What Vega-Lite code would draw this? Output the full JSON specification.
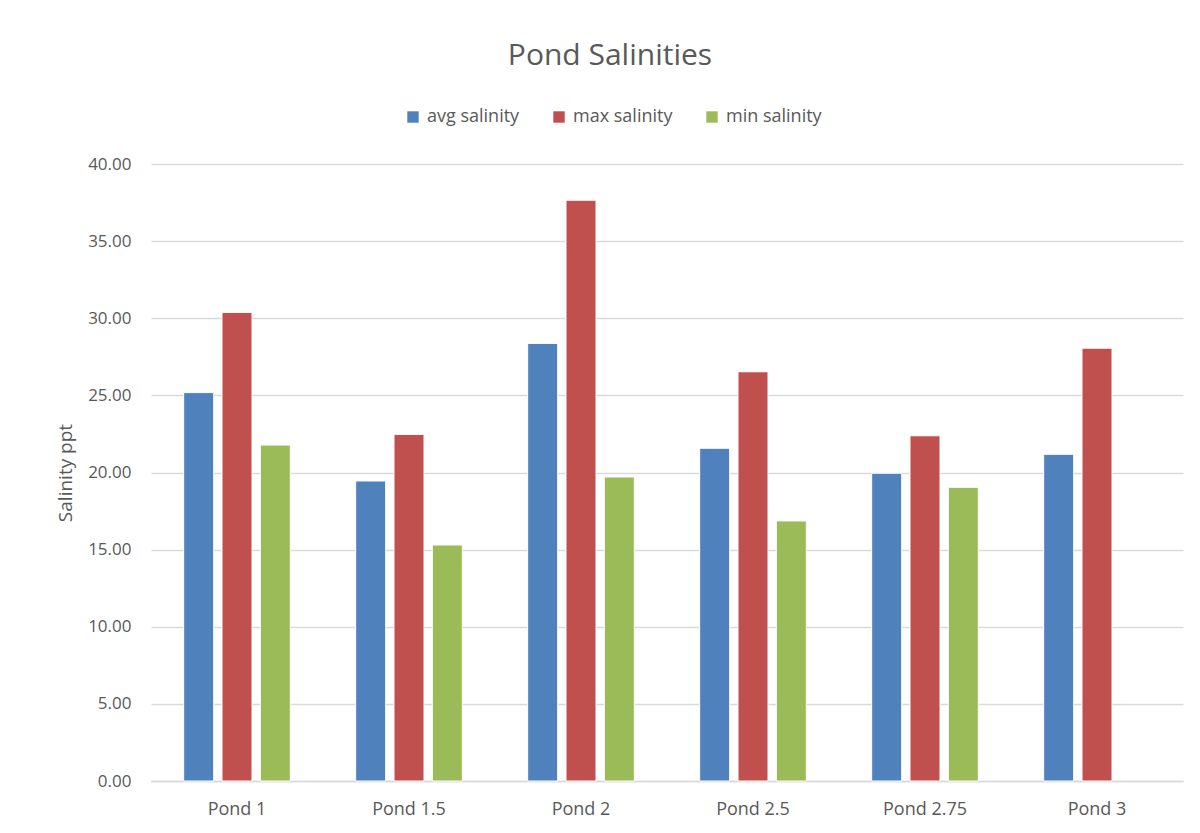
{
  "$schema": "https://vega.github.io/schema/vega-lite/v6.json",
  "width": 1032,
  "height": 617,
  "autosize": {"type": "none"},
  "padding": {"left": 151, "top": 164, "right": 17, "bottom": 52},
  "background": "white",
  "title": {
    "text": "Pond Salinities",
    "font": "Open Sans",
    "fontSize": 30,
    "fontWeight": "normal",
    "color": "#595959",
    "anchor": "middle",
    "dx": -57,
    "offset": 37
  },
  "data": {
    "values": [
      {"pond": "Pond 1", "series": "avg salinity", "value": 25.18},
      {"pond": "Pond 1", "series": "max salinity", "value": 30.38},
      {"pond": "Pond 1", "series": "min salinity", "value": 21.78},
      {"pond": "Pond 1.5", "series": "avg salinity", "value": 19.45},
      {"pond": "Pond 1.5", "series": "max salinity", "value": 22.47},
      {"pond": "Pond 1.5", "series": "min salinity", "value": 15.3},
      {"pond": "Pond 2", "series": "avg salinity", "value": 28.37},
      {"pond": "Pond 2", "series": "max salinity", "value": 37.65},
      {"pond": "Pond 2", "series": "min salinity", "value": 19.71},
      {"pond": "Pond 2.5", "series": "avg salinity", "value": 21.57},
      {"pond": "Pond 2.5", "series": "max salinity", "value": 26.53},
      {"pond": "Pond 2.5", "series": "min salinity", "value": 16.86},
      {"pond": "Pond 2.75", "series": "avg salinity", "value": 19.95},
      {"pond": "Pond 2.75", "series": "max salinity", "value": 22.38},
      {"pond": "Pond 2.75", "series": "min salinity", "value": 19.04},
      {"pond": "Pond 3", "series": "avg salinity", "value": 21.18},
      {"pond": "Pond 3", "series": "max salinity", "value": 28.06}
    ]
  },
  "mark": {"type": "bar", "stroke": "white", "strokeWidth": 1},
  "encoding": {
    "x": {
      "field": "pond",
      "type": "nominal",
      "sort": null,
      "scale": {"paddingInner": 0.38, "paddingOuter": 0.19},
      "axis": {
        "title": null,
        "labelAngle": 0,
        "labelFont": "Open Sans",
        "labelFontSize": 18,
        "labelColor": "#595959",
        "labelPadding": 19,
        "ticks": false,
        "domain": true,
        "domainColor": "#d9d9d9",
        "domainWidth": 1.5,
        "grid": false
      }
    },
    "xOffset": {
      "field": "series",
      "type": "nominal",
      "scale": {"paddingInner": 0.217, "domain": ["avg salinity", "max salinity", "min salinity"]}
    },
    "y": {
      "field": "value",
      "type": "quantitative",
      "scale": {"domain": [0, 40], "nice": false},
      "axis": {
        "title": "Salinity ppt",
        "titleFont": "Open Sans",
        "titleFontSize": 19,
        "titleFontWeight": "normal",
        "titleColor": "#595959",
        "titlePadding": 12,
        "values": [0, 5, 10, 15, 20, 25, 30, 35, 40],
        "format": ".2f",
        "labelFont": "Open Sans",
        "labelFontSize": 17,
        "labelColor": "#595959",
        "labelPadding": 20,
        "ticks": false,
        "domain": false,
        "grid": true,
        "gridColor": "#d9d9d9",
        "gridWidth": 1.5
      }
    },
    "color": {
      "field": "series",
      "type": "nominal",
      "scale": {
        "domain": ["avg salinity", "max salinity", "min salinity"],
        "range": ["#4F81BD", "#C0504D", "#9BBB59"]
      },
      "legend": {
        "title": null,
        "orient": "none",
        "legendX": 253,
        "legendY": -56,
        "direction": "horizontal",
        "symbolType": "square",
        "symbolSize": 130,
        "symbolStrokeWidth": 0,
        "labelFont": "Open Sans",
        "labelFontSize": 18,
        "labelColor": "#595959",
        "columnPadding": 30,
        "labelOffset": 5
      }
    }
  },
  "config": {
    "view": {"stroke": null}
  }
}
